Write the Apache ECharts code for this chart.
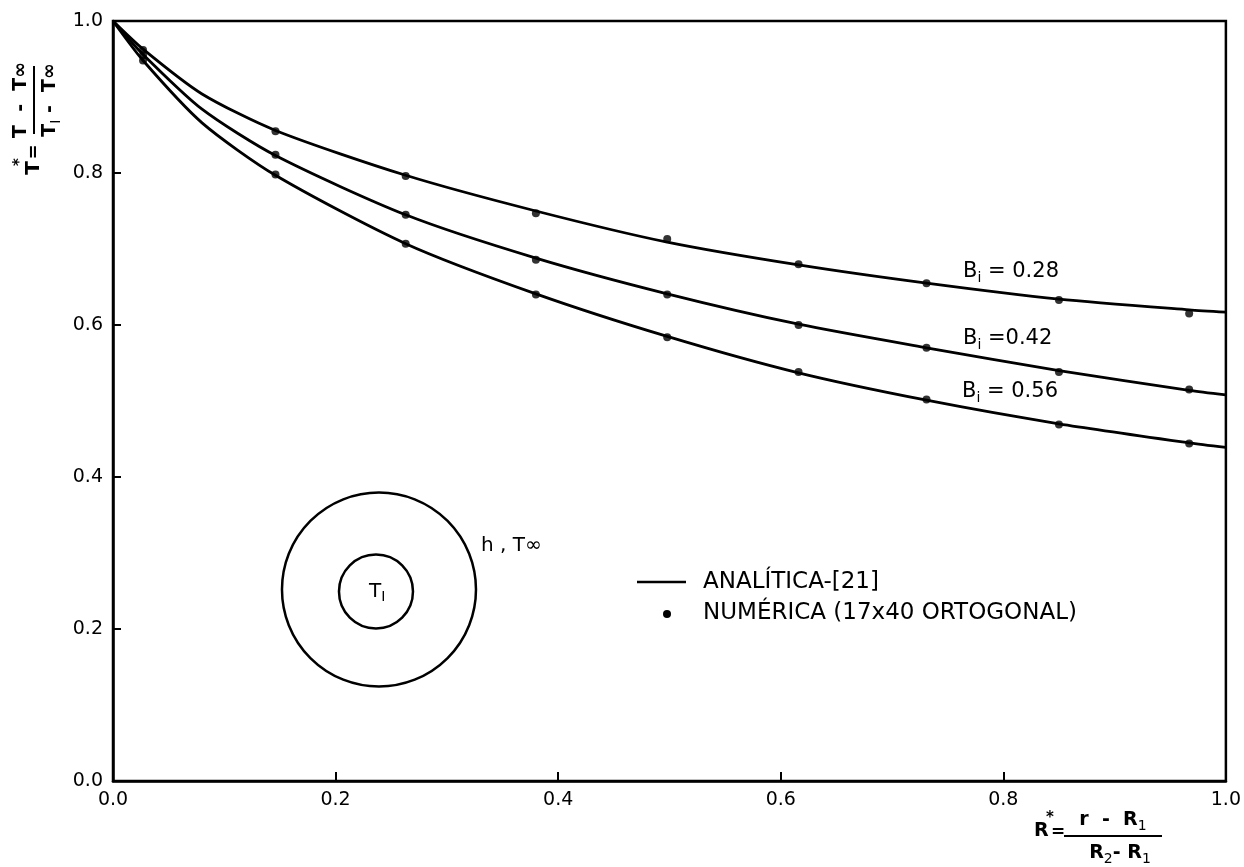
<!DOCTYPE html>
<html>
<head>
<meta charset="utf-8">
<script src="https://cdn.jsdelivr.net/npm/echarts@6/dist/echarts.min.js"></script>
<style>
  html, body { margin: 0; padding: 0; background: #fff; }
  #main { width: 1244px; height: 867px; }
</style>
</head>
<body>
<div id="main"></div>
<script>
// numeric solution nodes (dots)
var numX   = [0.027, 0.146, 0.263, 0.380, 0.498, 0.616, 0.731, 0.850, 0.967];
var num028 = [0.962, 0.855, 0.796, 0.747, 0.713, 0.680, 0.655, 0.633, 0.615];
var num042 = [0.955, 0.824, 0.745, 0.686, 0.640, 0.600, 0.570, 0.538, 0.515];
var num056 = [0.948, 0.798, 0.707, 0.640, 0.584, 0.538, 0.502, 0.469, 0.444];

// analytic curves
var lineX  = [0, 0.027, 0.08, 0.146, 0.263, 0.380, 0.498, 0.616, 0.731, 0.850, 0.967, 1.0];
var ana028 = [1.0, 0.963, 0.904, 0.856, 0.797, 0.750, 0.709, 0.679, 0.655, 0.634, 0.620, 0.617];
var ana042 = [1.0, 0.956, 0.884, 0.823, 0.745, 0.688, 0.641, 0.601, 0.570, 0.540, 0.514, 0.508];
var ana056 = [1.0, 0.948, 0.866, 0.797, 0.707, 0.641, 0.585, 0.537, 0.501, 0.470, 0.445, 0.439];

var biLabels = ['0.28', '0.42', '0.56'];

var FONT = '"DejaVu Sans", sans-serif';

function pairs(xs, ys) {
  var out = [];
  for (var i = 0; i < xs.length; i++) out.push([xs[i], ys[i]]);
  return out;
}

function lineSeries(ys) {
  return {
    type: 'line',
    name: 'ANALITICA-[21]',
    data: pairs(lineX, ys),
    smooth: 0.25,
    symbol: 'none',
    lineStyle: { color: '#000', width: 2.8 },
    z: 2
  };
}

function dotSeries(ys) {
  return {
    type: 'scatter',
    name: 'NUMERICA (17x40 ORTOGONAL)',
    data: pairs(numX, ys),
    symbol: 'circle',
    symbolSize: 8,
    itemStyle: { color: '#000' },
    z: 3
  };
}

var chart = echarts.init(document.getElementById('main'));

var option = {
  backgroundColor: '#fff',
  animation: false,
  grid: {
    left: 113, right: 18, top: 21, bottom: 86,
    show: true, borderColor: '#000', borderWidth: 2.5, backgroundColor: 'transparent'
  },
  xAxis: {
    type: 'value', min: 0, max: 1, interval: 0.2,
    axisLine: { show: true, lineStyle: { color: '#000', width: 2.5 } },
    axisTick: { show: true, inside: true, length: 9, lineStyle: { color: '#000', width: 2 } },
    splitLine: { show: false },
    axisLabel: {
      color: '#000', fontSize: 19, fontFamily: FONT, margin: 10,
      formatter: function (v) { return v.toFixed(1); }
    }
  },
  yAxis: {
    type: 'value', min: 0, max: 1, interval: 0.2,
    axisLine: { show: true, lineStyle: { color: '#000', width: 2.5 } },
    axisTick: { show: true, inside: true, length: 8, lineStyle: { color: '#000', width: 2 } },
    splitLine: { show: false },
    axisLabel: {
      color: '#000', fontSize: 19, fontFamily: FONT, margin: 10,
      formatter: function (v) { return v.toFixed(1); }
    }
  },
  series: [
    lineSeries(ana028), lineSeries(ana042), lineSeries(ana056),
    dotSeries(num028), dotSeries(num042), dotSeries(num056)
  ]
};
chart.setOption(option);

// annotations placed after the axes exist
var c = chart.convertToPixel({ gridIndex: 0 }, [0.239, 0.252]);
var txt = { fill: '#000', fontFamily: FONT };

var subRich = {
  sub: { fontSize: 14, fontFamily: FONT, verticalAlign: 'bottom', padding: [12, 0, 0, 0] }
};

chart.setOption({
  graphic: [
    // annulus sketch
    { type: 'circle', shape: { cx: c[0], cy: c[1], r: 97 }, style: { fill: null, stroke: '#000', lineWidth: 2.5 } },
    { type: 'circle', shape: { cx: c[0] - 3, cy: c[1] + 2, r: 37 }, style: { fill: null, stroke: '#000', lineWidth: 2.5 } },
    { type: 'text', x: c[0] - 10, y: c[1] + 2, style: Object.assign({ text: 'T{sub|I}', fontSize: 20, verticalAlign: 'middle', rich: subRich }, txt) },
    { type: 'text', x: c[0] + 102, y: c[1] - 44, style: Object.assign({ text: 'h , T∞', fontSize: 20, verticalAlign: 'middle' }, txt) },

    // curve labels
    { type: 'text', x: 963, y: 272, style: Object.assign({ text: 'B{sub|i} = ' + biLabels[0], fontSize: 21, verticalAlign: 'middle', rich: subRich }, txt) },
    { type: 'text', x: 963, y: 339, style: Object.assign({ text: 'B{sub|i} =' + biLabels[1], fontSize: 21, verticalAlign: 'middle', rich: subRich }, txt) },
    { type: 'text', x: 962, y: 392, style: Object.assign({ text: 'B{sub|i} = ' + biLabels[2], fontSize: 21, verticalAlign: 'middle', rich: subRich }, txt) },

    // key
    { type: 'line', shape: { x1: 637, y1: 582, x2: 686, y2: 582 }, style: { stroke: '#000', lineWidth: 2.5 } },
    { type: 'text', x: 703, y: 582, style: Object.assign({ text: 'ANALÍTICA-[21]', fontSize: 23, verticalAlign: 'middle' }, txt) },
    { type: 'circle', shape: { cx: 667, cy: 614, r: 4 }, style: { fill: '#000' } },
    { type: 'text', x: 703, y: 613, style: Object.assign({ text: 'NUMÉRICA (17x40 ORTOGONAL)', fontSize: 23, verticalAlign: 'middle' }, txt) },

    // x axis title
    { type: 'text', x: 1034, y: 831, style: Object.assign({ text: 'R', fontSize: 19, fontWeight: 'bold', verticalAlign: 'middle' }, txt) },
    { type: 'text', x: 1046, y: 818, style: Object.assign({ text: '*', fontSize: 15, fontWeight: 'bold', verticalAlign: 'middle' }, txt) },
    { type: 'text', x: 1051, y: 833, style: Object.assign({ text: '=', fontSize: 17, fontWeight: 'bold', verticalAlign: 'middle' }, txt) },
    { type: 'line', shape: { x1: 1064, y1: 836, x2: 1162, y2: 836 }, style: { stroke: '#000', lineWidth: 2 } },
    { type: 'text', x: 1113, y: 833, style: Object.assign({ text: 'r  -  R{sub|1}', fontSize: 19, fontWeight: 'bold', align: 'center', verticalAlign: 'bottom', rich: subRich }, txt) },
    { type: 'text', x: 1120, y: 840, style: Object.assign({ text: 'R{sub|2}- R{sub|1}', fontSize: 19, fontWeight: 'bold', align: 'center', verticalAlign: 'top', rich: subRich }, txt) },

    // y axis title, rotated to read upward
    {
      type: 'group', x: 34, y: 100, rotation: Math.PI / 2,
      children: [
        { type: 'line', shape: { x1: -34, y1: 0, x2: 34, y2: 0 }, style: { stroke: '#000', lineWidth: 2 } },
        { type: 'text', x: 0, y: -3, style: Object.assign({ text: 'T  -  T∞', fontSize: 19, fontWeight: 'bold', align: 'center', verticalAlign: 'bottom' }, txt) },
        { type: 'text', x: 0, y: 3, style: Object.assign({ text: 'T{sub|I} -  T∞', fontSize: 19, fontWeight: 'bold', align: 'center', verticalAlign: 'top', rich: subRich }, txt) },
        { type: 'text', x: -52, y: 0, style: Object.assign({ text: '=', fontSize: 18, fontWeight: 'bold', align: 'center', verticalAlign: 'middle' }, txt) },
        { type: 'text', x: -68, y: 0, style: Object.assign({ text: 'T', fontSize: 20, fontWeight: 'bold', align: 'center', verticalAlign: 'middle' }, txt) },
        { type: 'text', x: -62, y: -14, style: Object.assign({ text: '*', fontSize: 15, fontWeight: 'bold', align: 'center', verticalAlign: 'middle' }, txt) }
      ]
    }
  ]
});
</script>
</body>
</html>
